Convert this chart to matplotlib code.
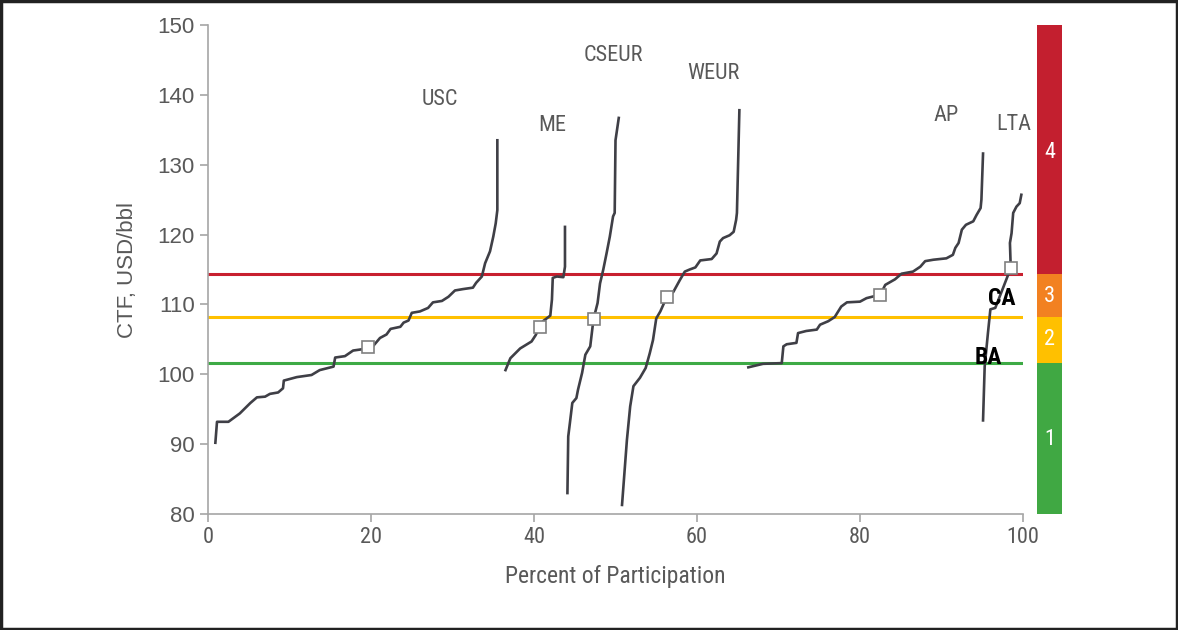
import matplotlib
matplotlib.use("Agg")
import matplotlib.pyplot as plt
from matplotlib.patches import Rectangle

# --- data ---
usc_x = [0.9, 1.1, 2.5, 3.9, 5.2, 6.0, 7.0, 7.6, 8.6, 9.2, 9.3, 10.9, 12.7, 13.7, 15.4, 15.6,
         16.8, 17.8, 19.0, 20.3, 21.1, 21.9, 22.4, 23.6, 24.0, 24.6, 25.0, 26.0, 27.0, 27.6,
         28.7, 29.5, 30.3, 31.3, 32.5, 32.9, 33.6, 34.0, 34.6, 35.0, 35.3, 35.5, 35.5, 35.5]
usc_y = [90.2, 93.2, 93.2, 94.4, 95.9, 96.7, 96.8, 97.2, 97.4, 98.0, 99.1, 99.6, 99.9, 100.6,
         101.1, 102.4, 102.6, 103.4, 103.6, 104.1, 105.2, 105.7, 106.5, 106.8, 107.4, 107.7,
         108.8, 109.0, 109.5, 110.3, 110.5, 111.1, 112.0, 112.2, 112.4, 113.1, 114.0, 115.9,
         117.6, 119.7, 121.6, 123.5, 127.4, 133.5]

me_x = [36.5, 37.1, 38.3, 39.7, 40.2, 40.7, 41.1, 42.0, 42.2, 42.3, 42.8, 43.6, 43.8, 43.8]
me_y = [100.6, 102.3, 103.7, 104.7, 105.6, 106.8, 107.6, 108.4, 110.7, 113.8, 114.0, 113.9,
        115.4, 121.1]

cseur_x = [44.1, 44.2, 44.4, 44.7, 45.2, 45.4, 45.9, 46.3, 46.9, 47.3, 47.8, 48.1, 48.5,
           48.9, 49.3, 49.7, 49.9, 50.0, 50.4]
cseur_y = [83.0, 91.1, 93.0, 95.9, 96.6, 97.8, 100.2, 102.8, 104.0, 107.9, 110.2, 113.0,
           115.0, 117.3, 119.7, 122.6, 123.1, 133.5, 136.7]

weur_x = [50.8, 51.4, 51.8, 52.2, 53.0, 53.7, 54.2, 54.6, 55.0, 55.5, 56.3, 57.1, 57.9,
          58.5, 59.1, 59.8, 60.4, 61.8, 62.4, 62.8, 63.2, 64.0, 64.5, 64.8, 64.9, 65.2]
weur_y = [81.3, 90.6, 95.4, 98.3, 99.5, 100.9, 103.0, 104.9, 108.0, 109.0, 111.1, 111.8,
          113.5, 114.7, 115.0, 115.3, 116.3, 116.5, 117.3, 119.0, 119.5, 119.9, 120.4, 122.1,
          123.1, 137.8]

ap_x = [66.3, 68.1, 70.4, 70.6, 71.0, 72.2, 72.4, 73.4, 74.7, 75.1, 76.1, 76.9, 77.7, 78.4,
        80.0, 80.8, 82.5, 83.1, 84.3, 85.1, 86.5, 87.4, 88.0, 89.0, 90.6, 91.4, 91.7, 92.1,
        92.5, 93.0, 93.9, 94.3, 94.8, 94.9, 95.1]
ap_y = [101.0, 101.5, 101.6, 104.0, 104.3, 104.5, 105.9, 106.2, 106.4, 107.1, 107.6, 108.2,
        109.7, 110.3, 110.4, 110.9, 111.4, 112.8, 113.6, 114.4, 114.7, 115.4, 116.2, 116.4,
        116.6, 117.1, 118.1, 118.8, 120.7, 121.4, 121.9, 122.8, 123.8, 125.0, 131.6]

lta_x = [95.1, 95.3, 95.7, 96.0, 96.6, 97.6, 98.5, 98.4, 98.6, 98.8, 99.2, 99.6, 99.8]
lta_y = [93.4, 101.1, 105.9, 109.3, 109.5, 112.5, 115.2, 118.8, 120.2, 123.1, 124.0, 124.5, 125.7]

curves = [(usc_x, usc_y), (me_x, me_y), (cseur_x, cseur_y), (weur_x, weur_y),
          (ap_x, ap_y), (lta_x, lta_y)]

marker_x = [19.6, 40.7, 47.3, 56.3, 82.5, 98.5]
marker_y = [103.9, 106.8, 107.9, 111.1, 111.4, 115.2]

region_labels = ["USC", "ME", "CSEUR", "WEUR", "AP", "LTA"]
region_label_x = [28.5, 42.2, 49.7, 62.0, 90.6, 98.9]
region_label_y = [139.3, 135.6, 145.6, 143.0, 137.1, 135.7]

thresholds = [114.3, 108.2, 101.6]
threshold_colors = ["#C8202F", "#FFC000", "#3DAA45"]

band_edges = [80, 101.6, 108.2, 114.3, 150]
band_colors = ["#40A843", "#FFC000", "#F28121", "#C31F2F"]
band_labels = ["1", "2", "3", "4"]
band_label_y = [90.6, 105.0, 111.1, 131.8]

grey = "#595959"
narrow = "Roboto Condensed"
plt.rcParams["font.family"] = ["Liberation Sans", "DejaVu Sans"]

fig = plt.figure(figsize=(11.78, 6.30), dpi=100)
ax = fig.add_axes([0.1766, 0.1841, 0.6918, 0.7762])

for xs, ys in curves:
    ax.plot(xs, ys, color="#3F3F46", lw=1.9, solid_joinstyle="round", zorder=3)

for y, c in zip(thresholds, threshold_colors):
    ax.axhline(y, color=c, lw=2.2, zorder=2)

ax.plot(marker_x, marker_y, ls="none", marker="s", ms=9, mfc="white", mec="#808080",
        mew=1.2, zorder=4)

for lab, x, y in zip(region_labels, region_label_x, region_label_y):
    ax.text(x, y, lab, ha="center", va="center", fontsize=16, color=grey, family=narrow)

ax.text(97.4, 110.8, "CA", ha="center", va="center", fontsize=17, fontweight="black",
        color="black", family=narrow, zorder=5)
ax.text(95.7, 102.4, "BA", ha="center", va="center", fontsize=17, fontweight="black",
        color="black", family=narrow, zorder=5)

ax.set_xlim(0, 100)
ax.set_ylim(80, 150)
ax.set_xticks([0, 20, 40, 60, 80, 100])
ax.set_yticks(range(80, 151, 10))
for s in ["top", "right"]:
    ax.spines[s].set_visible(False)
for s in ["left", "bottom"]:
    ax.spines[s].set_color("#A6A6A6")
    ax.spines[s].set_linewidth(1.2)
ax.tick_params(colors="#A6A6A6", length=6, width=1.2, labelcolor=grey, labelsize=16)
ax.tick_params(axis="x", labelsize=16)
for t in ax.get_xticklabels():
    t.set_fontfamily(narrow)
ax.set_xlabel("Percent of Participation", fontsize=17, color=grey, family=narrow, labelpad=12)
ax.set_ylabel("CTF, USD/bbl", fontsize=16, color=grey, labelpad=14)

# coloured band scale on the right
bx = fig.add_axes([0.8803, 0.1841, 0.0212, 0.7762])
for i, c in enumerate(band_colors):
    bx.bar(0, band_edges[i + 1] - band_edges[i], bottom=band_edges[i], width=1,
           color=c, align="edge")
    bx.text(0.5, band_label_y[i], band_labels[i], ha="center", va="center",
            color="white", fontsize=16, family=narrow)
bx.set_xlim(0, 1)
bx.set_ylim(80, 150)
bx.axis("off")

# black frame around the image
fig.patches.append(Rectangle((0.001, 0.002), 0.998, 0.996, transform=fig.transFigure,
                             fill=False, ec="#222222", lw=2.5))

fig.savefig("out.png", dpi=100)
